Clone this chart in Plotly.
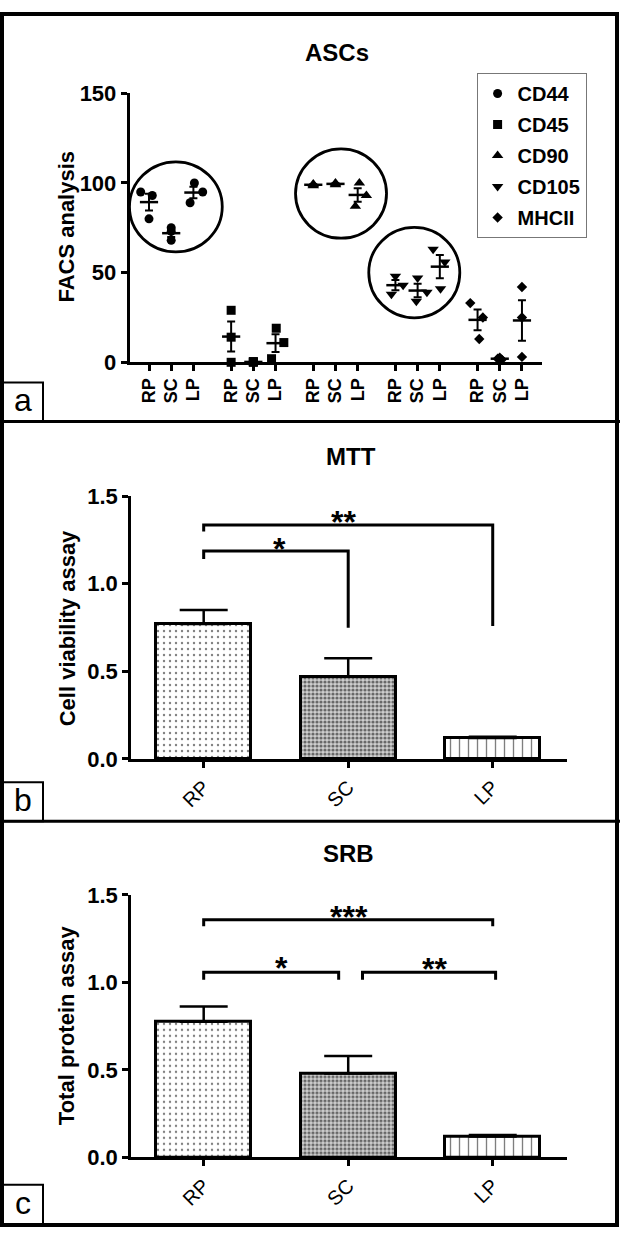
import numpy as np
import plotly.graph_objects as go

W, H = 620, 1240
FONT = "Liberation Sans, Arial, Helvetica, sans-serif"

# ---------------- data ----------------
markers = ["CD44", "CD45", "CD90", "CD105", "MHCII"]
sources = ["RP", "SC", "LP"]

cd44 = [[95, 93, 80], [75, 73, 68], [100, 95, 89]]
cd45 = [[29, 14, 0], [0.4, 0.2, 0.0], [19, 11, 2]]
cd90 = [[99, 98.5, 99.5], [99.5, 99, 100], [100, 93, 87]]
cd105 = [[48, 43, 38], [47, 39, 34], [63, 56, 41]]
mhcii = [[33, 25, 13], [2, 1.5, 2.5], [42, 25, 3]]
facs = [cd44, cd45, cd90, cd105, mhcii]

mtt_mean = [0.77, 0.47, 0.12]
mtt_sem = [0.08, 0.105, 0.006]
srb_mean = [0.775, 0.48, 0.12]
srb_sem = [0.087, 0.10, 0.008]

y_ticks_a = [0, 50, 100, 150]
y_ticks_bc = [0.0, 0.5, 1.0, 1.5]

# ---------------- styles / layout helpers ----------------
symbols = ["circle", "square", "triangle-up", "triangle-down", "diamond"]
msizes = [9, 9, 10, 10, 8]
# horizontal scatter of replicate points (pixels)
jitter_px = [
    [[-8.3, 3.3, 0], [0, 0, 0], [1, 9.3, -3.3]],
    [[0, 0, 0], [0, 0, 0], [0.7, 8.3, -4]],
    [[0, 0, 0], [0, 0, 0], [1.7, 8.7, -2.3]],
    [[0, 7.7, -4], [0, 9.3, -1.3], [-6.7, 5, 0.7]],
    [[-7.3, 5.3, 1.7], [-2, 2, 0], [0, 0, 0]],
]
GROUP_STEP = 3.7
PX_PER_UNIT_A = 22.2


def X(px):
    return px / W


def Y(py):
    return 1 - py / H


fig = go.Figure()

# ---------------- panel a ----------------
tickvals_a = []
ticktext_a = []
for g in range(len(markers)):
    for i, s in enumerate(sources):
        tickvals_a.append(g * GROUP_STEP + i)
        ticktext_a.append(s)

for g, name in enumerate(markers):
    xs, ys = [], []
    for i in range(3):
        for r, v in enumerate(facs[g][i]):
            xs.append(g * GROUP_STEP + i + jitter_px[g][i][r] / PX_PER_UNIT_A)
            ys.append(v)
    fig.add_trace(go.Scatter(
        x=xs, y=ys, mode="markers", name=name, xaxis="x", yaxis="y",
        marker=dict(symbol=symbols[g], size=msizes[g], color="black"),
        cliponaxis=False, legendgroup=name,
    ))
    means = [float(np.mean(facs[g][i])) for i in range(3)]
    sems = [float(np.std(facs[g][i], ddof=1) / np.sqrt(len(facs[g][i]))) for i in range(3)]
    fig.add_trace(go.Scatter(
        x=[g * GROUP_STEP + i for i in range(3)], y=means, mode="markers",
        xaxis="x", yaxis="y", showlegend=False, cliponaxis=False,
        marker=dict(symbol="line-ew", size=13, color="black",
                    line=dict(width=2.5, color="black")),
        error_y=dict(type="data", array=sems, symmetric=True, width=4,
                     thickness=2, color="black"),
    ))

# ---------------- panels b, c ----------------
bar_patterns = [
    dict(shape=".", size=6, solidity=0.12, fgcolor="black", bgcolor="white"),
    dict(shape=".", size=4, solidity=0.5, fgcolor="black", bgcolor="#cfcfcf"),
    dict(shape="|", size=9, solidity=0.15, fgcolor="black", bgcolor="white"),
]
for ax, means, sems in [("2", mtt_mean, mtt_sem), ("3", srb_mean, srb_sem)]:
    for i in range(3):
        fig.add_trace(go.Bar(
            x=[i], y=[means[i]], width=0.66, xaxis="x" + ax, yaxis="y" + ax,
            showlegend=False,
            marker=dict(color="white", line=dict(color="black", width=3),
                        pattern=bar_patterns[i]),
            error_y=dict(type="data", array=[sems[i]], arrayminus=[0],
                         symmetric=False, width=24, thickness=2.5, color="black"),
        ))

axis_common = dict(showline=True, linewidth=2.5, linecolor="black", ticks="outside",
                   ticklen=6, tickwidth=2.5, tickcolor="black", showgrid=False,
                   zeroline=False)
bold_tick = dict(family=FONT, size=22, color="black", weight="bold")

fig.update_layout(
    width=W, height=H, margin=dict(l=0, r=0, t=0, b=0),
    paper_bgcolor="white", plot_bgcolor="white", bargap=0,
    font=dict(family=FONT, color="black"),
    xaxis=dict(axis_common, domain=[X(129.5), X(542)],
               range=[(129.5 - 149) / PX_PER_UNIT_A, (542 - 149) / PX_PER_UNIT_A],
               tickvals=tickvals_a, ticktext=ticktext_a, tickangle=-90,
               tickfont=dict(family=FONT, size=18, color="black", weight="bold"),
               anchor="y"),
    yaxis=dict(axis_common, domain=[Y(357.5), Y(83)], range=[0, 150],
               tickvals=y_ticks_a, tickfont=bold_tick, anchor="x"),
    xaxis2=dict(axis_common, domain=[X(131), X(567)], range=[-0.503, 2.514],
                tickvals=[0, 1, 2], ticktext=sources, tickangle=-45,
                tickfont=dict(family=FONT, size=20, color="black"), anchor="y2"),
    yaxis2=dict(axis_common, domain=[Y(762.3), Y(494)], range=[0, 1.5],
                tickvals=y_ticks_bc, tickformat=".1f", tickfont=bold_tick, anchor="x2"),
    xaxis3=dict(axis_common, domain=[X(131), X(567)], range=[-0.503, 2.514],
                tickvals=[0, 1, 2], ticktext=sources, tickangle=-45,
                tickfont=dict(family=FONT, size=20, color="black"), anchor="y3"),
    yaxis3=dict(axis_common, domain=[Y(1169), Y(901)], range=[0, 1.5],
                tickvals=y_ticks_bc, tickformat=".1f", tickfont=bold_tick, anchor="x3"),
    legend=dict(x=X(476.6), y=Y(62.3), xanchor="left", yanchor="top",
                bordercolor="#777", borderwidth=1, bgcolor="white",
                font=dict(family=FONT, size=20, color="black", weight="bold"),
                tracegroupgap=2),
)

# ---------------- decorations ----------------
shapes = []
# outer frame and panel separators
shapes.append(dict(type="rect", xref="paper", yref="paper", x0=X(2), x1=X(617),
                   y0=Y(1238), y1=Y(2), line=dict(color="black", width=4)))
for sy in [418, 826]:
    shapes.append(dict(type="line", xref="paper", yref="paper", x0=0, x1=1,
                       y0=Y(sy), y1=Y(sy), line=dict(color="black", width=3)))
# panel letter boxes
letter_boxes = [("a", 378, 418), ("b", 786, 826), ("c", 1197, 1237)]
annotations = []
for lt, top, bot in letter_boxes:
    shapes.append(dict(type="rect", xref="paper", yref="paper", x0=X(3), x1=X(43),
                       y0=Y(bot), y1=Y(top), line=dict(color="black", width=2)))
    annotations.append(dict(text=lt, xref="paper", yref="paper", x=X(23),
                            y=Y((top + bot) / 2 - 2), showarrow=False,
                            xanchor="center", yanchor="middle",
                            font=dict(family=FONT, size=32, color="black")))

# circles around groups in panel a: (x0, x1, y0, y1) in data units
group_circles = [(-0.88, 3.3, 61.6, 111.8), (6.6, 10.7, 69.2, 119.0),
                 (9.9, 14.0, 24.8, 75.2)]
for x0, x1, y0, y1 in group_circles:
    shapes.append(dict(type="circle", xref="x", yref="y", x0=x0, x1=x1, y0=y0, y1=y1,
                       line=dict(color="black", width=2.8)))

# significance brackets: (xleft, xright, yline, yleft_end, yright_end, label, xlab, ylab)
brackets_b = [(0, 1, 1.186, 1.141, 0.749, "*", 0.522, 1.20),
              (0, 2, 1.335, 1.298, 0.758, "**", 0.966, 1.35)]
brackets_c = [(0, 2, 1.358, 1.32, 1.32, "***", 1.006, 1.375),
              (0, 0.934, 1.058, 1.015, 1.015, "*", 0.54, 1.08),
              (1.099, 2.02, 1.058, 1.015, 1.015, "**", 1.595, 1.075)]
for ax, brs in [("2", brackets_b), ("3", brackets_c)]:
    for xl, xr, yl, yle, yre, lab, xt, yt in brs:
        shapes.append(dict(type="path", xref="x" + ax, yref="y" + ax,
                           path=f"M {xl},{yle} L {xl},{yl} L {xr},{yl} L {xr},{yre}",
                           line=dict(color="black", width=3)))
        annotations.append(dict(text=lab, xref="x" + ax, yref="y" + ax, x=xt, y=yt,
                                showarrow=False, xanchor="center", yanchor="middle",
                                font=dict(family=FONT, size=32, color="black",
                                          weight="bold")))

# titles
for txt, cx, cy in [("ASCs", 337, 41), ("MTT", 350.6, 453.3), ("SRB", 348.6, 859.3)]:
    annotations.append(dict(text=txt, xref="paper", yref="paper", x=X(cx), y=Y(cy),
                            showarrow=False, xanchor="center", yanchor="middle",
                            font=dict(family=FONT, size=24, color="black", weight="bold")))
# y-axis titles
for txt, cx, cy in [("FACS analysis", 67, 219), ("Cell viability assay", 67, 629),
                    ("Total protein assay", 66, 1034)]:
    annotations.append(dict(text=txt, xref="paper", yref="paper", x=X(cx), y=Y(cy),
                            showarrow=False, xanchor="center", yanchor="middle",
                            textangle=-90,
                            font=dict(family=FONT, size=22, color="black", weight="bold")))

fig.update_layout(shapes=shapes, annotations=annotations)
fig.write_html("out.html", config={"displayModeBar": False},
               post_script=("document.body.style.margin='0';"
                            "document.body.style.padding='0';"))
